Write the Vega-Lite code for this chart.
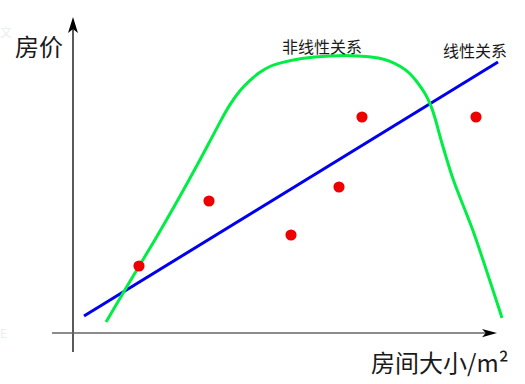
{
  "$schema": "https://vega.github.io/schema/vega-lite/v6.json",
  "width": 525,
  "height": 384,
  "padding": 0,
  "autosize": {"type": "fit", "contains": "padding"},
  "background": "white",
  "config": {"view": {"stroke": null}},
  "datasets": {
    "points": [
      {"x": 139, "y": 118}, {"x": 209, "y": 183}, {"x": 291, "y": 149},
      {"x": 339, "y": 197}, {"x": 362, "y": 267}, {"x": 476, "y": 267}
    ],
    "linear": [{"x": 84, "y": 68}, {"x": 498, "y": 322}],
    "nonlinear": [
      {"x": 106, "y": 62}, {"x": 130, "y": 103}, {"x": 155, "y": 144}, {"x": 178, "y": 184},
      {"x": 200, "y": 224}, {"x": 210, "y": 243}, {"x": 220, "y": 262}, {"x": 230, "y": 280},
      {"x": 240, "y": 294}, {"x": 250, "y": 304}, {"x": 260, "y": 312}, {"x": 270, "y": 318},
      {"x": 280, "y": 321}, {"x": 300, "y": 326}, {"x": 330, "y": 328.5}, {"x": 360, "y": 328.5},
      {"x": 380, "y": 326}, {"x": 390, "y": 323}, {"x": 400, "y": 318}, {"x": 410, "y": 311},
      {"x": 418, "y": 301}, {"x": 425, "y": 291}, {"x": 430, "y": 281}, {"x": 435, "y": 267},
      {"x": 440, "y": 247}, {"x": 447, "y": 224}, {"x": 453, "y": 204}, {"x": 463, "y": 179},
      {"x": 473, "y": 154}, {"x": 483, "y": 124}, {"x": 493, "y": 94}, {"x": 502, "y": 66}
    ],
    "yaxis": [{"x": 73, "y": 32}, {"x": 73, "y": 360}],
    "xaxis": [{"x": 52, "y": 51}, {"x": 490, "y": 51}],
    "yarrow": [{"x": 73, "y": 359}],
    "xarrow": [{"x": 489.5, "y": 51}],
    "bigtext": [
      {"x": 15, "y": 335, "t": "房价"},
      {"x": 371, "y": 19, "t": "房间大小/m²"}
    ],
    "smalltext": [
      {"x": 282, "y": 336.5, "t": "非线性关系"},
      {"x": 443, "y": 332, "t": "线性关系"}
    ],
    "faint": [
      {"x": 0, "y": 351, "t": "文"},
      {"x": 0, "y": 50, "t": "E"}
    ]
  },
  "encoding": {
    "x": {"field": "x", "type": "quantitative", "axis": null, "scale": {"domain": [0, 525], "nice": false, "zero": false}},
    "y": {"field": "y", "type": "quantitative", "axis": null, "scale": {"domain": [0, 384], "nice": false, "zero": false}}
  },
  "layer": [
    {"data": {"name": "faint"}, "mark": {"type": "text", "align": "left", "baseline": "middle", "fontSize": 12, "font": "Noto Sans CJK SC", "color": "#e9eef3"}, "encoding": {"text": {"field": "t"}}},
    {"data": {"name": "yaxis"}, "mark": {"type": "line", "color": "black", "strokeWidth": 1.3}, "encoding": {}},
    {"data": {"name": "xaxis"}, "mark": {"type": "line", "color": "#666666", "strokeWidth": 1.6}, "encoding": {}},
    {"data": {"name": "yarrow"}, "mark": {"type": "point", "filled": true, "color": "black", "opacity": 1, "size": 256, "shape": "M0,-1L0.62,1L0,0.5L-0.62,1Z"}},
    {"data": {"name": "xarrow"}, "mark": {"type": "point", "filled": true, "color": "black", "opacity": 1, "size": 225, "shape": "M1,0L-1,-0.55L-0.5,0L-1,0.55Z"}},
    {"data": {"name": "linear"}, "mark": {"type": "line", "color": "#0000ee", "strokeWidth": 3}, "encoding": {}},
    {"data": {"name": "nonlinear"}, "mark": {"type": "line", "color": "#00ee44", "strokeWidth": 3, "interpolate": "basis"}, "encoding": {}},
    {"data": {"name": "points"}, "mark": {"type": "circle", "color": "#ee0000", "opacity": 1, "size": 125}},
    {"data": {"name": "bigtext"}, "mark": {"type": "text", "align": "left", "baseline": "middle", "fontSize": 24, "font": "Noto Sans CJK SC", "color": "#1a1a1a"}, "encoding": {"text": {"field": "t"}}},
    {"data": {"name": "smalltext"}, "mark": {"type": "text", "align": "left", "baseline": "middle", "fontSize": 16, "font": "Noto Sans CJK SC", "color": "#1a1a1a"}, "encoding": {"text": {"field": "t"}}}
  ]
}
